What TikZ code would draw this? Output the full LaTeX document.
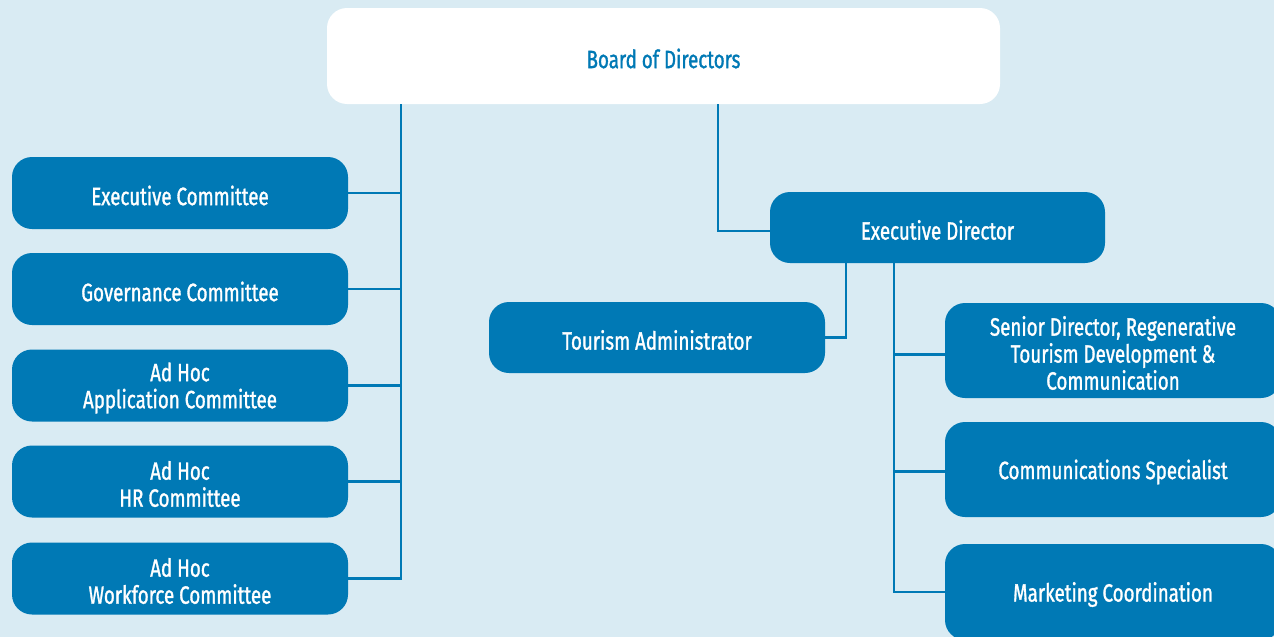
\documentclass[tikz,border=0pt]{standalone}
\usepackage{fontspec}
\setmainfont{Fira Sans}[FakeStretch=0.75,FakeBold=1.2]
\definecolor{bg}{HTML}{D9EBF3}
\definecolor{boxblue}{HTML}{0079B5}
\begin{document}
\begin{tikzpicture}[x=1pt,y=1pt,
  orgbox/.style={draw=none,fill=boxblue,rounded corners=20pt,inner sep=0pt},
  lbl/.style={text=white,align=center,inner sep=0pt,yshift=-2.5pt,
    font=\fontsize{25}{27}\selectfont},
  conn/.style={draw=boxblue,line width=2.5pt}]
\fill[bg] (0,0) rectangle (1274,-637);
\useasboundingbox (0,0) rectangle (1274,-637);
\node[orgbox,fill=white,minimum width=673pt,minimum height=96pt,
  label={[lbl,text=boxblue]center:Board of Directors}] (bod) at (663.5,-56) {};
\node[orgbox,minimum width=336pt,minimum height=72pt,
  label={[lbl]center:Executive Committee}] (ec) at (180,-193) {};
\node[orgbox,minimum width=336pt,minimum height=72pt,
  label={[lbl]center:Governance Committee}] (gc) at (180,-289) {};
\node[orgbox,minimum width=336pt,minimum height=72pt,
  label={[lbl]center:{Ad Hoc\\Application Committee}}] (ac) at (180,-385.5) {};
\node[orgbox,minimum width=336pt,minimum height=72pt,
  label={[lbl]center:{Ad Hoc\\HR Committee}}] (hr) at (180,-481.5) {};
\node[orgbox,minimum width=336pt,minimum height=72pt,
  label={[lbl]center:{Ad Hoc\\Workforce Committee}}] (wc) at (180,-578.5) {};
\node[orgbox,minimum width=335pt,minimum height=71pt,
  label={[lbl]center:Executive Director}] (ed) at (937.5,-227.5) {};
\node[orgbox,minimum width=336pt,minimum height=71pt,
  label={[lbl]center:Tourism Administrator}] (ta) at (657,-337.5) {};
\node[orgbox,minimum width=336pt,minimum height=95pt,
  label={[lbl]center:{Senior Director, Regenerative\\Tourism Development \&\\Communication}}] (sd) at (1113,-350.5) {};
\node[orgbox,minimum width=336pt,minimum height=95pt,
  label={[lbl]center:Communications Specialist}] (cs) at (1113,-469.5) {};
\node[orgbox,minimum width=336pt,minimum height=96pt,
  label={[lbl]center:Marketing Coordination}] (mc) at (1113,-592) {};
\coordinate (lv) at (401,-104);
\coordinate (rv) at (894,-263);
\coordinate (tv) at (846,-263);
\draw[conn] (bod.south -| lv) -- (wc.east -| lv) -- (wc.east);
\foreach \n in {ec,gc,ac,hr} \draw[conn] (\n.east) -- (\n.east -| lv);
\draw[conn] (718,-104) -- (718,-231) -- ([yshift=-3.5pt]ed.west);
\draw[conn] (tv) -- (ta.east -| tv) -- (ta.east);
\draw[conn] (rv) -- (mc.west -| rv) -- (mc.west);
\draw[conn] ([yshift=-4pt]sd.west -| rv) -- ([yshift=-4pt]sd.west);
\draw[conn] ([yshift=-2pt]cs.west -| rv) -- ([yshift=-2pt]cs.west);
\end{tikzpicture}
\end{document}
